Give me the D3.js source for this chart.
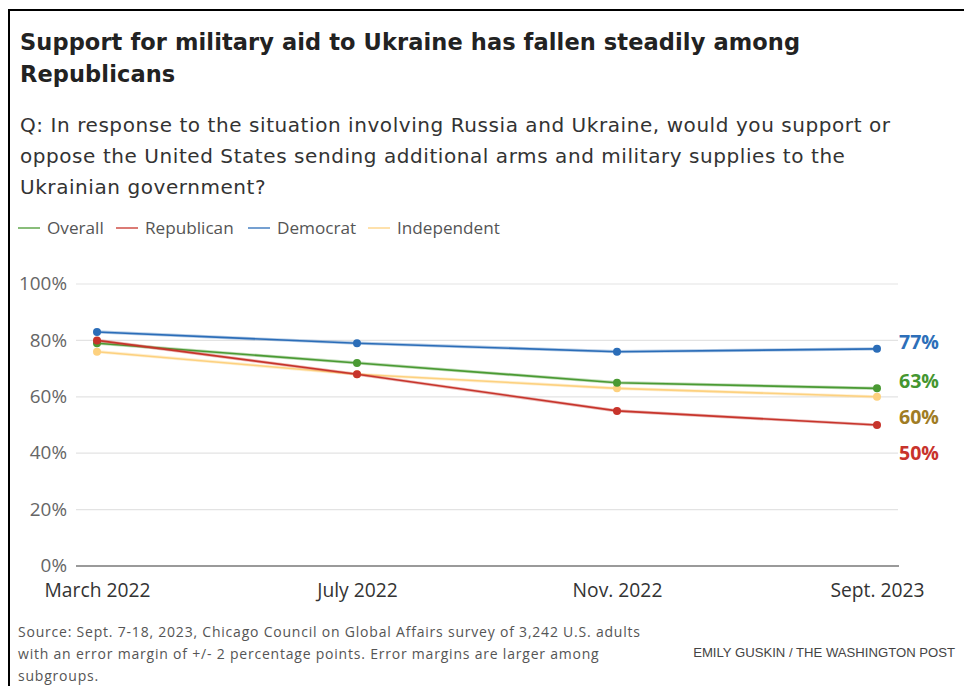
<!DOCTYPE html>
<html>
<head>
<meta charset="utf-8">
<script src="https://cdn.jsdelivr.net/npm/d3@7"></script>
<style>
  html, body { margin: 0; padding: 0; background: #fff; }
  svg { display: block; }
</style>
</head>
<body>
<svg id="chart" width="964" height="686"></svg>
<script>
// ---- data ----
const categories = ["March 2022", "July 2022", "Nov. 2022", "Sept. 2023"];
const overall     = [79, 72, 65, 63];
const republican  = [80, 68, 55, 50];
const democrat    = [83, 79, 76, 77];
const independent = [76, 68, 63, 60];
const yTicks = [0, 20, 40, 60, 80, 100];
const seriesNames = ["Overall", "Republican", "Democrat", "Independent"];

const colors = {
  Overall: "#4a9a33",
  Republican: "#c7342b",
  Democrat: "#2b6db8",
  Independent: "#fdd17f"
};
const labelColors = {
  Overall: "#449630",
  Republican: "#c8332c",
  Democrat: "#2d6fb9",
  Independent: "#a07c24"
};

const series = [
  { name: "Overall", values: overall },
  { name: "Republican", values: republican },
  { name: "Democrat", values: democrat },
  { name: "Independent", values: independent }
];

const svg = d3.select("#chart");
const FONT = "'Open Sans', 'Liberation Sans', Arial, sans-serif";
const WIDE = "'DejaVu Sans', 'Open Sans', sans-serif";

// spread a block of lines so its first line reaches a target width
function fitBlock(nodes, target) {
  const first = nodes[0];
  const w = first.getComputedTextLength();
  const n = first.textContent.length;
  const ls = (target - w) / Math.max(1, n - 1);
  nodes.forEach(nd => d3.select(nd).attr("letter-spacing", ls));
}
// scale font size so a sample text reaches a target width
function fitSize(sel, sample, target) {
  const nodes = sel.nodes();
  const nd = nodes.find(d => d.textContent === sample) || nodes[0];
  const fs = parseFloat(d3.select(nd).attr("font-size"));
  const w = nd.getComputedTextLength();
  sel.attr("font-size", fs * target / w);
}

// frame
svg.append("path")
  .attr("d", "M9,700 L9,10 L970,10")
  .attr("fill", "none").attr("stroke", "#000").attr("stroke-width", 2);

// title
const titleLines = ["Support for military aid to Ukraine has fallen steadily among", "Republicans"];
const titleNodes = titleLines.map((t, i) => svg.append("text")
  .attr("x", 20).attr("y", 50 + i * 32)
  .attr("font-family", WIDE).attr("font-weight", "bold")
  .attr("font-size", 22.5).attr("fill", "#222").text(t).node());
fitBlock(titleNodes, 780);

// subtitle
const subLines = ["Q: In response to the situation involving Russia and Ukraine, would you support or",
 "oppose the United States sending additional arms and military supplies to the",
 "Ukrainian government?"];
const subNodes = subLines.map((t, i) => svg.append("text")
  .attr("x", 20).attr("y", 132 + i * 31)
  .attr("font-family", WIDE).attr("font-size", 20).attr("fill", "#333").text(t).node());
fitBlock(subNodes, 870);

// legend
const legendX = [18, 116, 248, 368];
const leg = svg.append("g");
seriesNames.forEach((n, i) => {
  leg.append("line")
    .attr("x1", legendX[i]).attr("x2", legendX[i] + 22)
    .attr("y1", 228).attr("y2", 228)
    .attr("stroke", colors[n]).attr("stroke-width", 2).attr("stroke-opacity", 0.65);
  leg.append("text")
    .attr("x", legendX[i] + 29).attr("y", 234)
    .attr("font-family", FONT).attr("font-size", 16).attr("fill", "#555")
    .text(n);
});
fitSize(leg.selectAll("text"), "Independent", 103);

// scales
const x = d3.scalePoint().domain(categories).range([97, 877]);
const y = d3.scaleLinear().domain([0, 100]).range([566, 284]);

// grid
const grid = svg.append("g");
yTicks.forEach(t => {
  if (t === 0) return;
  grid.append("line")
    .attr("x1", 76).attr("x2", 898)
    .attr("y1", y(t)).attr("y2", y(t))
    .attr("stroke", "#e3e3e3").attr("stroke-width", 1.2);
});
grid.append("line")
  .attr("x1", 76).attr("x2", 899)
  .attr("y1", y(0)).attr("y2", y(0))
  .attr("stroke", "#9a9a9a").attr("stroke-width", 2);

// y axis labels
const yAxis = d3.axisLeft(y).tickValues(yTicks).tickFormat(d => d + "%").tickSize(0).tickPadding(0);
const yG = svg.append("g").attr("transform", "translate(67,0)").call(yAxis);
yG.select(".domain").remove();
yG.selectAll("text").attr("font-family", FONT).attr("font-size", 16).attr("fill", "#666")
  .attr("dy", "0.3em");
fitSize(yG.selectAll("text"), "100%", 48);

// x axis labels
const xAxis = d3.axisBottom(x).tickSize(0).tickPadding(0);
const xG = svg.append("g").attr("transform", "translate(0,582)").call(xAxis);
xG.select(".domain").remove();
xG.selectAll("text").attr("font-family", FONT).attr("font-size", 17).attr("fill", "#333")
  .attr("dy", "0.8em");
fitSize(xG.selectAll("text"), "March 2022", 106);

// lines
const lineGen = d3.line().x((d, i) => x(categories[i])).y(d => y(d));
const drawOrder = ["Independent", "Overall", "Republican", "Democrat"];
const plot = svg.append("g");
drawOrder.forEach(n => {
  const s = series.find(d => d.name === n);
  plot.append("path").datum(s.values)
    .attr("d", lineGen)
    .attr("fill", "none").attr("stroke", colors[n]).attr("stroke-width", 3.2).attr("stroke-opacity", 0.35);
  plot.append("path").datum(s.values)
    .attr("d", lineGen)
    .attr("fill", "none").attr("stroke", colors[n]).attr("stroke-width", 1.6);
  plot.selectAll(null).data(s.values).enter().append("circle")
    .attr("cx", (d, i) => x(categories[i])).attr("cy", d => y(d)).attr("r", 4)
    .attr("fill", colors[n]);
});

// end labels with simple collision avoidance
const ends = series.map(s => ({ name: s.name, v: s.values[s.values.length - 1] }))
  .sort((a, b) => b.v - a.v);
let prev = -Infinity;
ends.forEach(e => {
  e.yb = Math.max(y(e.v), prev + 36);
  prev = e.yb;
});
const endLabels = svg.append("g").selectAll("text").data(ends).enter().append("text")
  .attr("x", 899).attr("y", d => d.yb)
  .attr("font-family", FONT).attr("font-weight", "bold").attr("font-size", 19)
  .attr("fill", d => labelColors[d.name])
  .text(d => d.v + "%");
fitSize(endLabels, "77%", 40);

// footer
const srcLines = ["Source: Sept. 7-18, 2023, Chicago Council on Global Affairs survey of 3,242 U.S. adults",
 "with an error margin of +/- 2 percentage points. Error margins are larger among",
 "subgroups."];
const srcNodes = srcLines.map((t, i) => svg.append("text")
  .attr("x", 18).attr("y", 637 + i * 22)
  .attr("font-family", FONT).attr("font-size", 14).attr("fill", "#555").text(t).node());
fitBlock(srcNodes, 622);

const credit = svg.append("text").attr("x", 955).attr("y", 657).attr("text-anchor", "end")
  .attr("font-family", "'Liberation Sans Narrow', 'Liberation Sans', sans-serif").attr("font-size", 14).attr("fill", "#444")
  .text("EMILY GUSKIN / THE WASHINGTON POST");
fitSize(credit, "EMILY GUSKIN / THE WASHINGTON POST", 262);
</script>
</body>
</html>
